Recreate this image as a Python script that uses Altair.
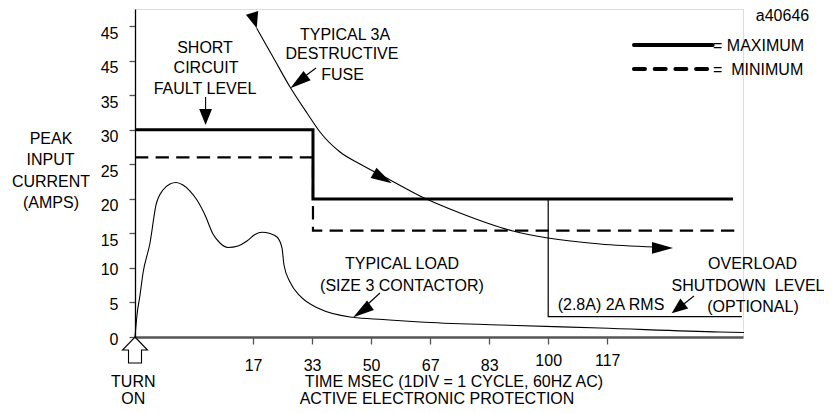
import altair as alt
import pandas as pd

# x is in "divisions" (1 DIV = 1 cycle), y is peak input current (amps)
x_tick_divs = [2, 3, 4, 5, 6, 7, 8]
x_tick_labels = ["17", "33", "50", "67", "83", "100", "117"]
y_tick_values = [0, 5, 10, 15, 20, 25, 30, 35, 40, 45]
y_tick_labels = ["0", "5", "10", "15", "20", "25", "30", "35", "45", "45"]

max_x = [0, 3.015, 3.015, 10.13]
max_y = [30, 30, 20, 20]
min_x = [0, 3.015, 3.015, 10.25]
min_y = [26, 26, 15.4, 15.4]

fuse_x = [2.062, 2.338, 2.626, 2.914, 3.134, 3.473, 3.812, 4.320, 4.828,
          5.506, 6.403, 6.996, 7.877, 8.809]
fuse_y = [44.71, 40.55, 36.21, 32.44, 29.69, 26.79, 25.05, 22.74, 20.42,
          17.96, 15.35, 14.34, 13.47, 13.03]

load_x = [0, 0.034, 0.085, 0.136, 0.254, 0.356, 0.474, 0.593, 0.695, 0.813,
          0.932, 1.050, 1.186, 1.321, 1.440, 1.575, 1.745, 1.897, 2.033, 2.151,
          2.287, 2.406, 2.490, 2.524, 2.626, 2.795, 3.134, 3.693, 4.201, 4.828,
          6.183, 7.877, 9.910, 10.317]
load_y = [0, 3.19, 6.08, 9.27, 13.61, 19.12, 21.29, 22.16, 22.38, 22.01,
          21.14, 19.84, 17.67, 14.92, 13.61, 12.96, 13.18, 13.90, 14.84, 15.16,
          14.99, 14.48, 12.89, 10.43, 7.97, 5.94, 4.06, 2.85, 2.53, 2.17,
          1.74, 1.30, 0.72, 0.65]

overload_x = [7.0, 7.0, 10.28]
overload_y = [20, 2.94, 2.94]

# legend samples
legend_x = [8.453, 9.786]
legend_max_y = 42.29
legend_min_y = 38.81

NB = "\u00a0"
# annotation text (centered)
ann_text = ["SHORT", "CIRCUIT", "FAULT LEVEL", "TYPICAL 3A", "DESTRUCTIVE", "FUSE",
            "TYPICAL LOAD", "(SIZE 3 CONTACTOR)", "OVERLOAD", "SHUTDOWN" + NB + " LEVEL",
            "(OPTIONAL)", "(2.8A) 2A RMS", "PEAK", "INPUT", "CURRENT", "(AMPS)",
            "TURN", "ON", "TIME MSEC (1DIV = 1 CYCLE, 60HZ AC)",
            "ACTIVE ELECTRONIC PROTECTION", "a40646"]
ann_x = [1.186, 1.203, 1.186, 3.558, 3.507, 3.515,
         4.523, 4.523, 10.461, 10.385,
         10.469, 8.064, -1.423, -1.431, -1.423, -1.423,
         -0.029, -0.029, 5.404,
         5.116, 10.969]
ann_y = [42.00, 39.10, 36.06, 43.88, 41.13, 38.09,
         10.72, 7.53, 10.72, 7.53,
         4.49, 4.78, 28.82, 25.78, 22.66, 19.62,
         -6.37, -8.83, -6.37,
         -8.83, 46.56]

# legend labels (left aligned)
leg_text = ["= MAXIMUM", "=" + NB + " MINIMUM"]
leg_x = [9.792, 9.792]
leg_y = [42.29, 38.81]

# arrowheads: tip position and direction (degrees, clockwise from +x)
arrow_small_x = [1.196, 2.062, 9.092]
arrow_small_y = [30.70, 44.71, 3.432]
arrow_small_angle = [90, 73, 142]
arrow_large_x = [4.349, 9.114, 3.698, 2.631]
arrow_large_y = [22.26, 12.89, 2.853, 36.02]
arrow_large_angle = [30, 0, 145, 143]

# arrow stems
stem_x = [1.196, 4.150, 9.470, 3.066]
stem_y = [34.76, 6.372, 5.938, 38.96]
stem_x2 = [1.196, 3.947, 9.233, 2.795]
stem_y2 = [32.58, 4.779, 4.345, 37.22]

FONT = "Liberation Sans"

xs = alt.Scale(domain=[0, 10.3], nice=False, zero=False)
ys = alt.Scale(domain=[0, 47.5], nice=False, zero=False)

xarr = [""] * (max(x_tick_divs) + 1)
for d, l in zip(x_tick_divs, x_tick_labels):
    xarr[d] = l
x_label_expr = "[" + ",".join("'%s'" % s for s in xarr) + "][round(datum.value)]"
y_label_expr = "[" + ",".join("'%s'" % s for s in y_tick_labels) + "][round(datum.value/5)]"

xaxis = alt.Axis(values=x_tick_divs, labelExpr=x_label_expr, title=None, grid=False,
                 domainColor="#555555", domainWidth=2.5, tickColor="#555555",
                 tickSize=7, tickWidth=1.3, labelFont=FONT, labelFontSize=16,
                 labelColor="black", labelBaseline="top", labelFlush=False,
                 labelOverlap=False,
                 labelPadding={"condition": {"test": "datum.value >= 7", "value": 8},
                               "value": 13})
yaxis = alt.Axis(values=y_tick_values, labelExpr=y_label_expr, title=None, grid=False,
                 domainColor="black", domainWidth=1.3, tickColor="#555555",
                 tickSize=6, tickWidth=1.3, labelFont=FONT, labelFontSize=16,
                 labelColor="black", labelPadding=11,
                 labelOffset={"condition": {"test": "datum.value <= 10", "value": 2},
                              "value": 7},
                 labelBaseline="middle", labelOverlap=False, labelFlush=False)


def X():
    return alt.X("x:Q", scale=xs, axis=xaxis)


def Y():
    return alt.Y("y:Q", scale=ys, axis=yaxis)


def series(xv, yv):
    return pd.DataFrame({"x": xv, "y": yv, "i": list(range(len(xv)))})


load = alt.Chart(series(load_x, load_y)).mark_line(
    color="black", strokeWidth=1.1, interpolate="monotone"
).encode(x=X(), y=Y(), order="i:Q")

fuse = alt.Chart(series(fuse_x, fuse_y)).mark_line(
    color="black", strokeWidth=1.1, interpolate="monotone"
).encode(x=X(), y=Y(), order="i:Q")

max_line = alt.Chart(series(max_x, max_y)).mark_line(
    color="black", strokeWidth=3, strokeJoin="miter"
).encode(x=X(), y=Y(), order="i:Q")

min_line = alt.Chart(series(min_x, min_y)).mark_line(
    color="black", strokeWidth=2.2, strokeDash=[13.3, 7.3], strokeJoin="miter"
).encode(x=X(), y=Y(), order="i:Q")

overload = alt.Chart(series(overload_x, overload_y)).mark_line(
    color="black", strokeWidth=1.2, strokeJoin="miter"
).encode(x=X(), y=Y(), order="i:Q")

leg_df = pd.DataFrame({"x": [legend_x[0]], "x2": [legend_x[1]],
                       "y": [legend_max_y], "ym": [legend_min_y]})
leg_solid = alt.Chart(leg_df).mark_rule(
    color="black", strokeWidth=4, strokeCap="round"
).encode(x=X(), x2="x2:Q", y=Y())
leg_dash = alt.Chart(leg_df).mark_rule(
    color="black", strokeWidth=4, strokeCap="round", strokeDash=[11, 9.7]
).encode(x=X(), x2="x2:Q", y=alt.Y("ym:Q", scale=ys, axis=yaxis))

stems = alt.Chart(pd.DataFrame({"x": stem_x, "y": stem_y, "x2": stem_x2, "y2": stem_y2})
                  ).mark_rule(color="black", strokeWidth=1.1).encode(
    x=X(), y=Y(), x2="x2:Q", y2="y2:Q")

arrow_small = alt.Chart(pd.DataFrame({"x": arrow_small_x, "y": arrow_small_y,
                                      "a": arrow_small_angle})).mark_point(
    shape="M0,0 L-2,-0.8 L-2,0.8 Z", filled=True, color="black", opacity=1, size=256
).encode(x=X(), y=Y(), angle=alt.Angle("a:Q", scale=None))

arrow_large = alt.Chart(pd.DataFrame({"x": arrow_large_x, "y": arrow_large_y,
                                      "a": arrow_large_angle})).mark_point(
    shape="M0,0 L-2,-0.56 L-2,0.56 Z", filled=True, color="black", opacity=1, size=441
).encode(x=X(), y=Y(), angle=alt.Angle("a:Q", scale=None))

turn_on = alt.Chart(pd.DataFrame({"x": [0], "y": [0]})).mark_point(
    shape="M0,0 L0.96,1 L0.5,1 L0.5,2 L-0.5,2 L-0.5,1 L-0.96,1 Z",
    filled=False, color="black", opacity=1, size=676, strokeWidth=1.1
).encode(x=X(), y=Y())

texts = alt.Chart(pd.DataFrame({"x": ann_x, "y": ann_y, "t": ann_text})).mark_text(
    font=FONT, fontSize=16, color="black", align="center", baseline="middle", dy=1
).encode(x=X(), y=Y(), text="t:N")

leg_texts = alt.Chart(pd.DataFrame({"x": leg_x, "y": leg_y, "t": leg_text})).mark_text(
    font=FONT, fontSize=16, color="black", align="left", baseline="middle", dy=1
).encode(x=X(), y=Y(), text="t:N")

chart = alt.layer(
    load, fuse, max_line, min_line, overload, leg_solid, leg_dash, stems,
    arrow_small, arrow_large, turn_on, texts, leg_texts
).properties(
    width=608, height=328,
    padding={"left": 127, "top": 1, "right": 81, "bottom": 68},
    autosize=alt.AutoSizeParams(type="none"),
).configure_view(stroke=None).configure(font=FONT)

chart.save("out.html", embed_options={"renderer": "svg", "actions": False})
